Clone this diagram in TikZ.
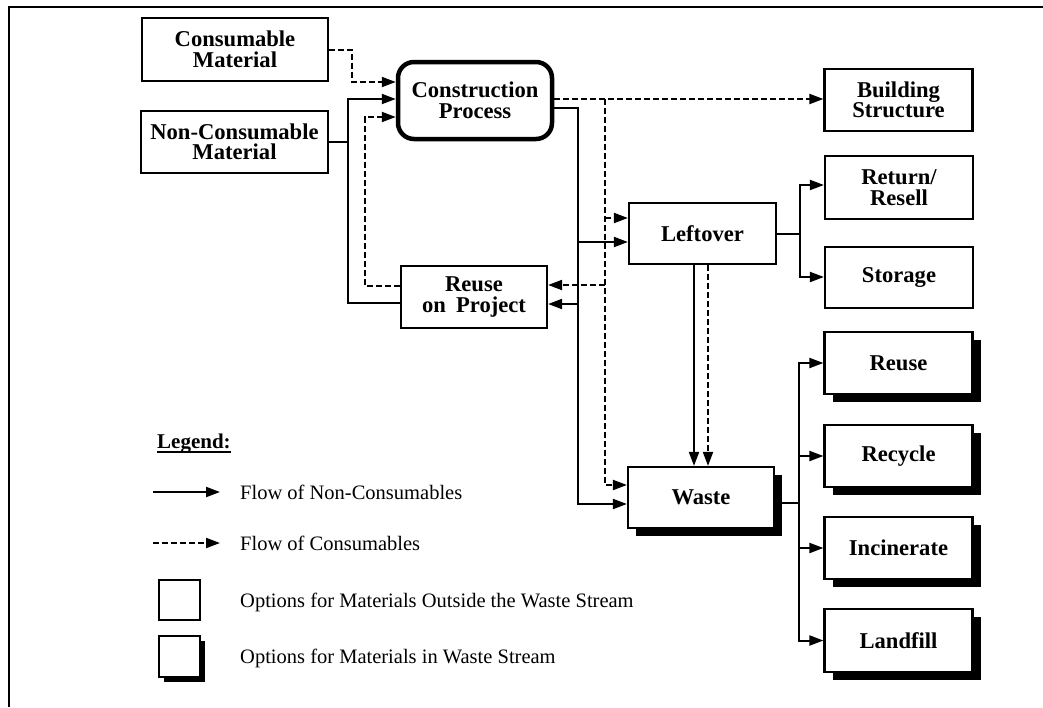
\documentclass[tikz,border=0pt]{standalone}
\usepackage{fontspec}
\setmainfont{Liberation Serif}
\usetikzlibrary{arrows.meta,shadows}
\begin{document}
\begin{tikzpicture}[x=1pt,y=-1pt,
  box/.style={draw, line width=2.2pt, fill=white, minimum width=148pt, minimum height=62pt,
    inner sep=0pt, align=center, font=\bfseries\fontsize{22.6}{20.5}\selectfont},
  wbox/.style={box, drop shadow={shadow xshift=8pt, shadow yshift=-8pt, fill=black, opacity=1}},
  line/.style={line width=2pt},
  flow/.style={line, -{Triangle[length=14pt,width=10pt]}},
  cflow/.style={flow, dash pattern=on 6pt off 3pt},
  lt/.style={anchor=west, inner sep=0pt, font=\fontsize{20.5}{22}\selectfont}]
\useasboundingbox (0,0) rectangle (1043,707);
\draw[line width=2pt] (9,707) -- (9,7) -- (1043,7);

% boxes
\node[box, minimum width=186pt, minimum height=63pt] (cm) at (235,49.5) {Consumable\\Material};
\node[box, minimum width=187pt] (nc) at (234.5,142) {Non-Consumable\\Material};
\node[box, rounded corners=16pt, line width=4.5pt, minimum width=154pt, minimum height=77pt] (cp) at (475,100.5) {Construction\\Process};
\node[box, minimum width=146pt] (rp) at (474,297) {Reuse\\on\hspace{0.45em}Project};
\node[box, minimum width=147pt, minimum height=61pt] (lo) at (702.5,233.5) {Leftover};
\node[box] (bs) at (898.5,100) {Building\\Structure};
\node[box, minimum height=63pt] (rr) at (899,187.5) {Return/\\Resell};
\node[box, minimum height=61pt] (st) at (899,277.5) {Storage};
\node[wbox, minimum width=146pt, minimum height=61pt] (ws) at (701,497.5) {Waste};
\node[wbox] (ru) at (898.5,363) {Reuse};
\node[wbox] (rc) at (898.5,456) {Recycle};
\node[wbox] (inc) at (898.5,548) {Incinerate};
\node[wbox, minimum height=63pt] (lf) at (898.5,640.5) {Landfill};

% inputs to construction process
\draw[cflow] (cm.east) -| (352,82) -- (cp.west |- 0,82);
\draw[flow] (nc.east) -| (348,99) -- (cp.west |- 0,99);
\draw[line] (rp.west |- 0,303) -| (348,142);
\draw[cflow] (rp.west |- 0,286) -| (365,117) -- (cp.west |- 0,117);

% outputs of construction process
\draw[cflow] (cp.east |- 0,99) -- (bs.west |- 0,99);
\draw[flow] (cp.east |- 0,108) -| (578,504) -- (ws.west |- 0,504);
\coordinate (dbus) at (605,99);
\draw[cflow] (dbus) -- (605,485) -- (ws.west |- 0,485);
\draw[cflow] (605,218) -- (lo.west |- 0,218);
\draw[flow] (578,242) -- (lo.west |- 0,242);
\draw[cflow] (605,285) -- (rp.east |- 0,285);
\draw[flow] (578,304) -- (rp.east |- 0,304);

% leftover
\draw[flow] (lo.south -| 694,0) -- (ws.north -| 694,0);
\draw[cflow] (lo.south -| 708,0) -- (ws.north -| 708,0);
\coordinate (jl) at (800,233.5);
\draw[line] (lo.east) -- (jl);
\draw[flow] (jl) |- (rr.west |- 0,185);
\draw[flow] (jl) |- (st.west |- 0,277);

% waste
\coordinate (jw) at (799,503);
\draw[line] (ws.east |- jw) -- (jw);
\draw[flow] (jw) |- (ru.west);
\draw[flow] (jw) |- (rc.west);
\draw[flow] (jw) |- (inc.west);
\draw[flow] (jw) |- (lf.west);

% legend
\node[anchor=west, inner sep=0pt, font=\bfseries\fontsize{21}{24}\selectfont] (lg) at (157,444) {Legend:};
\draw[line width=1.6pt] (lg.base west) ++(0,3) coordinate (u1) -- (lg.base east |- u1);
\coordinate (l1a) at (153,492); \coordinate (l1b) at (220,492);
\draw[flow] (l1a) -- (l1b);
\node[lt] (t1) at (240,492) {Flow of Non-Consumables};
\coordinate (l2a) at (153,543); \coordinate (l2b) at (220,543);
\draw[cflow] (l2a) -- (l2b);
\node[lt] (t2) at (240,543) {Flow of Consumables};
\node[draw, line width=2.2pt, minimum width=41pt, minimum height=40pt, inner sep=0pt] (lb1) at (179.5,600) {};
\node[lt] (t3) at (240,602) {Options for Materials Outside the Waste Stream};
\node[draw, line width=2.2pt, fill=white, minimum width=41pt, minimum height=41pt, inner sep=0pt,
  drop shadow={shadow xshift=5pt, shadow yshift=-5pt, fill=black, opacity=1}] (lb2) at (179.5,656.5) {};
\node[lt] (t4) at (240,658) {Options for Materials in Waste Stream};
\end{tikzpicture}
\end{document}
